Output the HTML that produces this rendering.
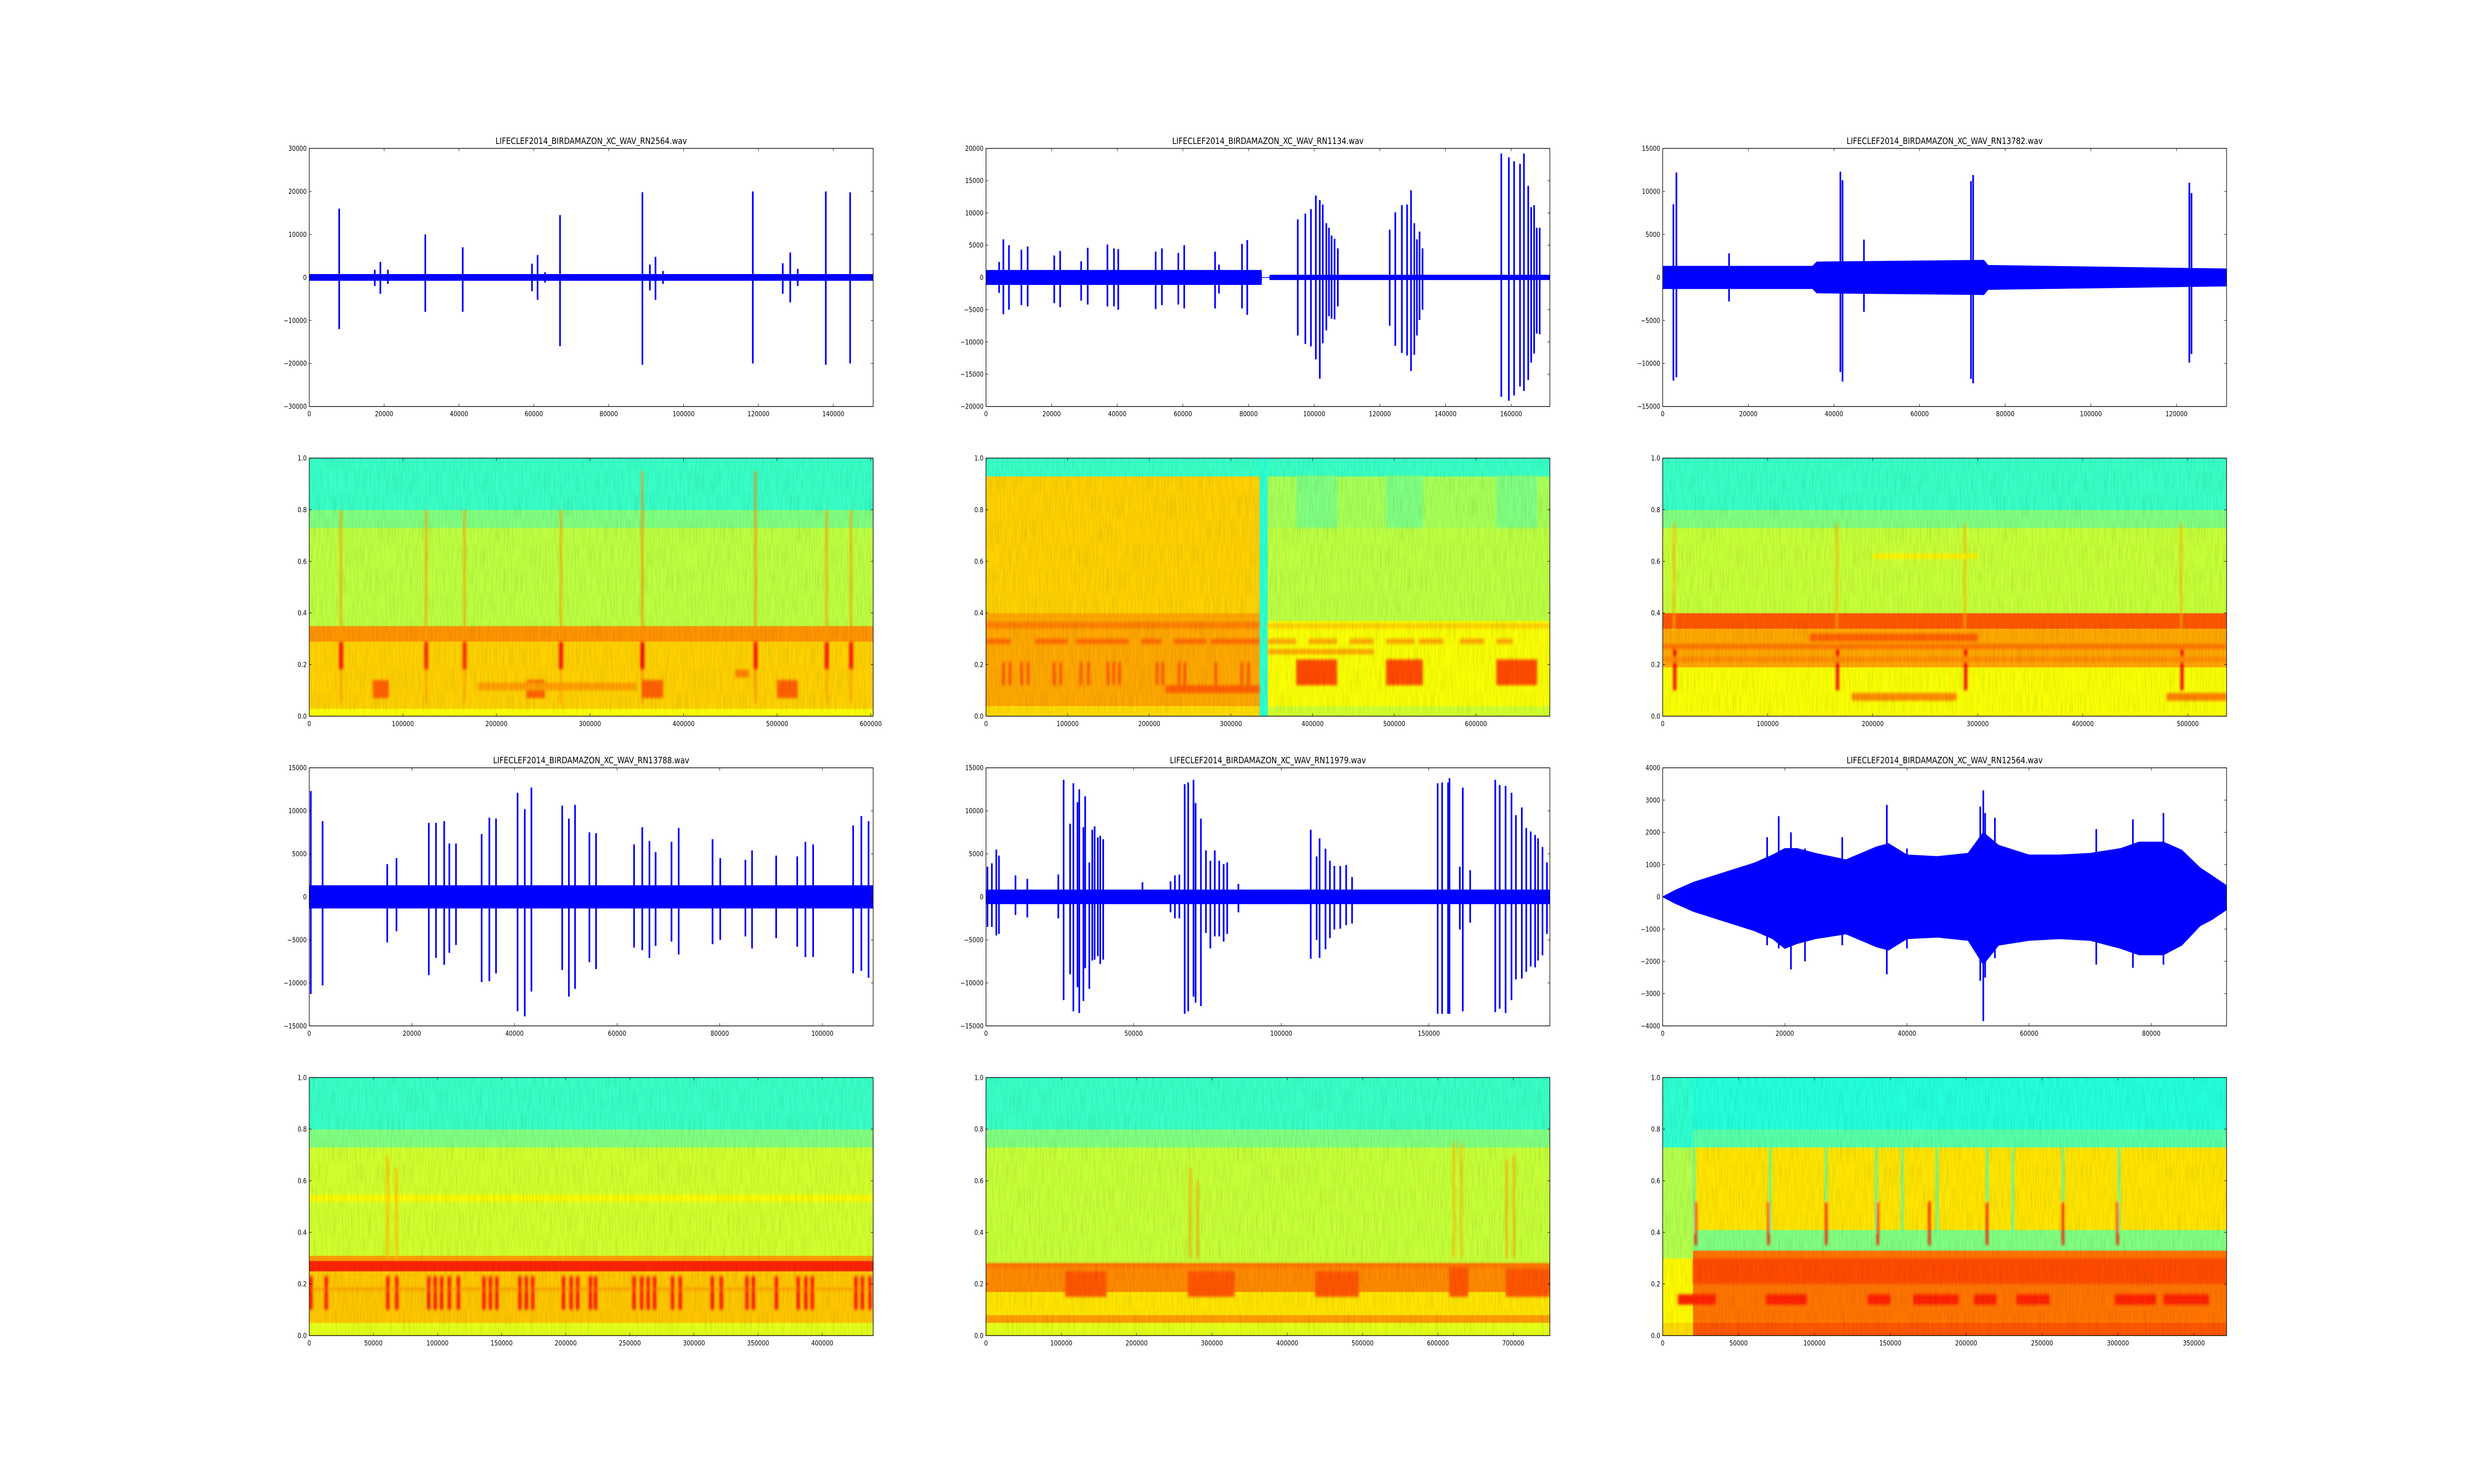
<!DOCTYPE html>
<html><head><meta charset="utf-8"><style>
html,body{margin:0;padding:0;background:#fff;overflow:hidden;width:100%;height:100%;}
svg{display:block;width:100vw;height:100vh;}
text{font-family:"DejaVu Sans","Liberation Sans",sans-serif;fill:#000;}
</style></head><body>
<svg id="fig" xmlns="http://www.w3.org/2000/svg" viewBox="0 0 6000 3000" preserveAspectRatio="none">
<defs>
<filter id="tex" x="0" y="0" width="1" height="1">
<feTurbulence type="fractalNoise" baseFrequency="0.35 0.02" numOctaves="2" seed="7"/>
<feColorMatrix type="matrix" values="0 0 0 0 0  0 0 0 0 0  0 0 0 0 0  1.4 0 0 0 -0.55"/>
</filter>
<filter id="soft" x="-0.5" y="-0.5" width="2" height="2"><feGaussianBlur stdDeviation="3"/></filter>
</defs>
<rect x="0" y="0" width="6000" height="3000" fill="#fff"/>
</svg>
<script>
// ---------- waveform data ----------
const waveA_title="LIFECLEF2014_BIRDAMAZON_XC_WAV_RN2564.wav";
const waveA_xTicks=[0,20000,40000,60000,80000,100000,120000,140000];
const waveA_yTicks=[-30000,-20000,-10000,0,10000,20000,30000];
const waveA_range=[0,150650,-30000,30000];
const waveA_baseT=[0,150650];
const waveA_baseHi=[700,700];
const waveA_baseLo=[-700,-700];
const waveA_evT=[8000,17500,19000,21000,31000,41000,59500,61000,63000,67000,89000,91000,92500,94500,118500,126500,128500,130500,138000,144500];
const waveA_evHi=[16000,1800,3600,1800,10000,7000,3200,5200,1200,14500,19800,3000,4800,1500,20000,3300,5800,2000,20000,19800];
const waveA_evLo=[-12000,-2000,-3800,-1500,-8000,-8000,-3200,-5200,-1200,-16000,-20300,-3000,-5200,-1500,-20000,-3800,-5800,-2000,-20300,-20000];

const waveB_title="LIFECLEF2014_BIRDAMAZON_XC_WAV_RN1134.wav";
const waveB_xTicks=[0,20000,40000,60000,80000,100000,120000,140000,160000];
const waveB_yTicks=[-20000,-15000,-10000,-5000,0,5000,10000,15000,20000];
const waveB_range=[0,171800,-20000,20000];
const waveB_baseT=[0,83900,84000,86400,86500,171800];
const waveB_baseHi=[1100,1100,0,0,350,350];
const waveB_baseLo=[-1100,-1100,0,0,-350,-350];
const waveB_evT=[4000,5300,7000,10800,12700,20800,22600,29000,31000,37000,39000,40300,51700,53600,58600,60400,69800,71000,78000,79600,95000,97300,99000,100500,101700,102600,103700,104500,105300,106200,107200,123000,124700,126700,128300,129500,130500,131300,132100,133000,157000,159300,160900,162700,163900,165200,166100,167000,167800,168700];
const waveB_evHi=[2400,5900,5000,4300,4800,3400,4100,2500,4600,5100,4500,4400,4000,4500,3800,5000,4000,2000,5200,5800,9000,9900,10600,12700,12000,11300,8400,7700,6500,6000,4500,7400,10100,11200,11300,13500,8400,5900,7100,4500,19200,18600,18000,17600,19200,14200,10900,11200,7700,7700];
const waveB_evLo=[-2400,-5700,-5000,-4300,-4500,-4000,-4600,-3600,-4200,-4500,-4500,-5000,-4900,-4300,-4200,-4800,-4800,-2500,-4800,-5800,-9000,-10300,-10700,-12700,-15700,-10200,-8200,-6000,-6400,-6500,-4500,-7500,-10600,-11700,-12100,-14500,-12000,-9000,-6600,-5000,-18500,-19100,-18300,-16900,-17600,-15900,-13200,-11800,-8700,-8800];

const waveC_title="LIFECLEF2014_BIRDAMAZON_XC_WAV_RN13782.wav";
const waveC_xTicks=[0,20000,40000,60000,80000,100000,120000];
const waveC_yTicks=[-15000,-10000,-5000,0,5000,10000,15000];
const waveC_range=[0,131700,-15000,15000];
const waveC_baseT=[0,35000,36000,75000,76000,131700];
const waveC_baseHi=[1300,1300,1800,2000,1400,1000];
const waveC_baseLo=[-1300,-1300,-1800,-2000,-1400,-1000];
const waveC_evT=[2500,3200,15500,41500,42000,47000,72000,72500,123000,123500];
const waveC_evHi=[8500,12200,2800,12300,11300,4400,11200,11900,11000,9800];
const waveC_evLo=[-12000,-11600,-2800,-11000,-12100,-4000,-11800,-12300,-9900,-8900];

const waveD_title="LIFECLEF2014_BIRDAMAZON_XC_WAV_RN13788.wav";
const waveD_xTicks=[0,20000,40000,60000,80000,100000];
const waveD_yTicks=[-15000,-10000,-5000,0,5000,10000,15000];
const waveD_range=[0,109900,-15000,15000];
const waveD_baseT=[0,109900];
const waveD_baseHi=[1300,1300];
const waveD_baseLo=[-1300,-1300];
const waveD_evT=[300,2600,15200,17000,23300,24700,26300,27300,28600,33600,35100,36400,40600,42000,43300,49300,50600,51800,54600,55900,63300,64900,66300,67500,70600,72000,78600,80100,85000,86300,91000,95100,96700,98200,106000,107600,109000];
const waveD_evHi=[12300,8800,3800,4500,8600,8600,8800,6200,6200,7300,9200,9100,12100,10200,12700,10600,9100,10700,7500,7400,6100,8100,6500,5200,6400,8000,6700,4500,4300,5400,4800,4700,6400,6100,8300,9400,8800];
const waveD_evLo=[-11300,-10300,-5300,-4000,-9100,-7100,-7900,-6500,-5600,-9900,-9800,-8900,-13300,-13900,-11000,-8500,-11600,-10700,-7600,-8400,-5900,-6200,-7100,-5700,-5200,-6700,-5500,-5000,-4600,-6000,-4800,-5800,-7000,-7000,-8900,-8600,-9400];

const waveE_title="LIFECLEF2014_BIRDAMAZON_XC_WAV_RN11979.wav";
const waveE_xTicks=[0,50000,100000,150000];
const waveE_yTicks=[-15000,-10000,-5000,0,5000,10000,15000];
const waveE_range=[0,191000,-15000,15000];
const waveE_baseT=[0,191000];
const waveE_baseHi=[800,800];
const waveE_baseLo=[-800,-800];
const waveE_evT=[500,2000,3500,4400,10000,14000,24500,26300,28500,29600,31000,31600,33000,33600,35000,36000,36800,37900,38700,39700,53000,62500,64000,65500,67300,68500,70300,71000,72800,74500,76000,77500,79000,80500,81700,85500,110000,112000,113000,115000,116500,118000,120000,122000,124000,153000,154500,156500,157000,160500,161500,164000,172500,174000,176000,178000,179500,181500,183000,184500,186000,187000,188500,190000];
const waveE_evHi=[3500,3900,5500,4800,2500,2100,2600,13600,8500,13200,11000,12500,8100,11700,4000,7800,8200,6900,7100,6700,1700,1800,2500,2600,13100,13300,13600,10900,9100,5400,4200,5400,4200,3800,4000,1500,7800,4700,6800,5600,4200,3600,3600,3700,2300,13200,13300,13300,13800,3500,12700,3100,13600,13000,12900,12100,9500,10400,8000,7600,7200,6800,5800,4000];
const waveE_evLo=[-3500,-3500,-4500,-4300,-2100,-2400,-2500,-12000,-9000,-13300,-10500,-13500,-12100,-8300,-10700,-7400,-7300,-6900,-7800,-7300,-800,-1800,-2500,-2500,-13600,-13300,-11600,-12300,-12700,-4200,-6000,-4600,-4600,-5200,-4300,-1800,-7200,-5000,-7100,-6100,-4800,-3800,-3700,-3300,-3100,-13600,-13600,-13600,-13600,-3800,-13300,-3000,-13400,-13000,-13500,-12000,-9600,-9500,-8700,-8100,-8200,-7400,-6800,-4300];

const waveF_title="LIFECLEF2014_BIRDAMAZON_XC_WAV_RN12564.wav";
const waveF_xTicks=[0,20000,40000,60000,80000];
const waveF_yTicks=[-4000,-3000,-2000,-1000,0,1000,2000,3000,4000];
const waveF_range=[0,92340,-4000,4000];
const waveF_baseT=[0,2000,5000,10000,15000,18000,20000,22000,25000,30000,35000,37000,40000,45000,50000,52500,55000,60000,65000,70000,75000,78000,82000,85000,88000,90000,92340];
const waveF_baseHi=[0,200,450,750,1050,1300,1500,1500,1350,1150,1550,1650,1300,1250,1350,2000,1600,1300,1300,1350,1500,1700,1700,1450,900,650,350];
const waveF_baseLo=[0,-200,-450,-750,-1050,-1300,-1600,-1450,-1300,-1150,-1550,-1650,-1300,-1250,-1350,-2100,-1500,-1350,-1300,-1350,-1600,-1800,-1800,-1500,-900,-700,-400];
const waveF_evT=[17100,19000,21000,23300,29400,36700,40000,52000,52500,52800,54400,71000,77000,82000];
const waveF_evHi=[1850,2500,2000,1500,1850,2850,1500,2800,3300,2600,2450,2100,2400,2600];
const waveF_evLo=[-1500,-1600,-2250,-2000,-1500,-2400,-1600,-2600,-3850,-2500,-1900,-2100,-2200,-2100];

// ---------- spectrogram data ----------
const specA_xTicks=[0,100000,200000,300000,400000,500000,600000];
const specA_xMax=602600;
const specA_regT0=[0];
const specA_regT1=[602600];
const specA_bandTop=[[0.03,0.29,0.35,0.73,0.80,1.0]];
const specA_bandLv=[[0.62,0.67,0.73,0.56,0.5,0.43]];
const specA_blobT0=[33000,124000,165000,268000,355000,476000,552000,578000,32000,123000,164000,267000,354000,475000,551000,577000,68000,232000,355000,500000,180000,320000,455000];
const specA_blobT1=[34500,125500,166500,269500,356500,477500,553500,579500,36000,127000,168000,271000,358000,479000,555000,581000,85000,252000,378000,522000,330000,350000,470000];
const specA_blobF0=[0.05,0.05,0.05,0.05,0.05,0.05,0.05,0.05,0.18,0.18,0.18,0.18,0.18,0.18,0.18,0.18,0.07,0.07,0.07,0.07,0.10,0.10,0.15];
const specA_blobF1=[0.8,0.8,0.8,0.8,0.95,0.95,0.8,0.8,0.29,0.29,0.29,0.29,0.29,0.29,0.29,0.29,0.14,0.14,0.14,0.14,0.13,0.13,0.18];
const specA_blobLv=[0.72,0.72,0.72,0.72,0.74,0.74,0.72,0.72,0.86,0.84,0.84,0.86,0.88,0.86,0.86,0.86,0.78,0.78,0.78,0.78,0.72,0.72,0.75];

const specB_xTicks=[0,100000,200000,300000,400000,500000,600000];
const specB_xMax=690600;
const specB_regT0=[0,335000,345000];
const specB_regT1=[335000,345000,690600];
const specB_bandTop=[[0.04,0.4,0.93,1.0],[1.0],[0.04,0.37,0.73,0.93,1.0]];
const specB_bandLv=[[0.66,0.71,0.67,0.43],[0.42],[0.58,0.62,0.56,0.54,0.43]];
const specB_blobT0=[0,0,60000,110000,190000,230000,275000,20000,28000,42000,50000,82000,90000,115000,124000,148000,155000,162000,208000,215000,235000,242000,280000,312000,320000,220000,380000,490000,625000,380000,490000,625000,345000,395000,445000,490000,530000,580000,625000,345000,345000];
const specB_blobT1=[335000,30000,100000,175000,215000,270000,335000,23000,31000,45000,53000,85000,93000,118000,127000,151000,158000,165000,211000,218000,238000,245000,283000,315000,323000,335000,430000,535000,675000,430000,535000,675000,380000,430000,475000,525000,560000,610000,645000,475000,690600];
const specB_blobF0=[0.34,0.28,0.28,0.28,0.28,0.28,0.28,0.12,0.12,0.12,0.12,0.12,0.12,0.12,0.12,0.12,0.12,0.12,0.12,0.12,0.12,0.12,0.12,0.12,0.12,0.09,0.73,0.73,0.73,0.12,0.12,0.12,0.28,0.28,0.28,0.28,0.28,0.28,0.28,0.24,0.34];
const specB_blobF1=[0.365,0.30,0.30,0.30,0.30,0.30,0.30,0.21,0.21,0.21,0.21,0.21,0.21,0.21,0.21,0.21,0.21,0.21,0.21,0.21,0.21,0.21,0.21,0.21,0.21,0.12,0.93,0.93,0.93,0.22,0.22,0.22,0.30,0.30,0.30,0.30,0.30,0.30,0.30,0.26,0.36];
const specB_blobLv=[0.75,0.77,0.77,0.77,0.77,0.77,0.77,0.8,0.8,0.8,0.8,0.8,0.8,0.8,0.8,0.8,0.8,0.8,0.8,0.8,0.8,0.8,0.8,0.8,0.8,0.78,0.5,0.5,0.5,0.8,0.8,0.8,0.71,0.71,0.71,0.71,0.71,0.71,0.71,0.71,0.67];

const specC_xTicks=[0,100000,200000,300000,400000,500000];
const specC_xMax=537000;
const specC_regT0=[0];
const specC_regT1=[537000];
const specC_bandTop=[[0.19,0.34,0.40,0.73,0.80,1.0]];
const specC_bandLv=[[0.62,0.71,0.79,0.57,0.5,0.43]];
const specC_blobT0=[10000,165000,287000,493000,10000,165000,287000,493000,140000,180000,480000,200000,0,0];
const specC_blobT1=[13000,168000,290000,496000,11500,166500,288500,494500,300000,280000,537000,300000,537000,537000];
const specC_blobF0=[0.1,0.1,0.1,0.1,0.27,0.27,0.27,0.27,0.29,0.06,0.06,0.61,0.26,0.21];
const specC_blobF1=[0.27,0.27,0.27,0.27,0.75,0.75,0.75,0.75,0.32,0.09,0.09,0.63,0.28,0.23];
const specC_blobLv=[0.88,0.88,0.88,0.88,0.7,0.7,0.7,0.7,0.78,0.74,0.75,0.64,0.76,0.74];

const specD_xTicks=[0,50000,100000,150000,200000,250000,300000,350000,400000];
const specD_xMax=439700;
const specD_regT0=[0];
const specD_regT1=[439700];
const specD_bandTop=[[0.05,0.25,0.29,0.31,0.73,0.80,1.0]];
const specD_bandLv=[[0.6,0.68,0.84,0.72,0.58,0.5,0.43]];
const specD_streakT=[0,12000,60000,67000,92000,97000,102000,108000,115000,135000,140000,145000,163000,168000,173000,197000,203000,208000,218000,222000,252000,258000,263000,268000,282000,288000,313000,320000,340000,345000,363000,380000,386000,391000,425000,430000,436000];
const specD_blobT0=[0,0,60000,67000];
const specD_blobT1=[439700,439700,62000,69000];
const specD_blobF0=[0.52,0.175,0.3,0.3];
const specD_blobF1=[0.545,0.185,0.7,0.65];
const specD_blobLv=[0.63,0.72,0.68,0.68];

const specE_xTicks=[0,100000,200000,300000,400000,500000,600000,700000];
const specE_xMax=748600;
const specE_regT0=[0];
const specE_regT1=[748600];
const specE_bandTop=[[0.05,0.08,0.17,0.28,0.73,0.80,1.0]];
const specE_bandLv=[[0.6,0.72,0.65,0.74,0.57,0.5,0.43]];
const specE_blobT0=[105000,268000,437000,615000,690000,270000,280000,620000,630000,690000,700000,0];
const specE_blobT1=[160000,330000,495000,640000,748600,272000,282000,622000,632000,692000,702000,748600];
const specE_blobF0=[0.15,0.15,0.15,0.15,0.15,0.3,0.3,0.3,0.3,0.3,0.3,0.265];
const specE_blobF1=[0.25,0.25,0.25,0.28,0.26,0.65,0.6,0.75,0.75,0.68,0.7,0.28];
const specE_blobLv=[0.79,0.79,0.79,0.79,0.79,0.72,0.72,0.7,0.7,0.72,0.72,0.76];

const specF_xTicks=[0,50000,100000,150000,200000,250000,300000,350000];
const specF_xMax=371600;
const specF_regT0=[0,20000];
const specF_regT1=[20000,371600];
const specF_bandTop=[[0.05,0.30,0.73,1.0],[0.05,0.33,0.41,0.73,0.80,1.0]];
const specF_bandLv=[[0.66,0.63,0.55,0.42],[0.79,0.76,0.5,0.65,0.46,0.41]];
const specF_blobT0=[20000,70000,107000,140000,157000,180000,213000,230000,263000,300000,21000,69000,107000,141000,175000,213000,263000,299000,10000,68000,135000,165000,205000,233000,298000,330000,20000];
const specF_blobT1=[21500,71500,108500,141500,158500,181500,214500,231500,264500,301500,22500,70500,108500,142500,176500,214500,264500,300500,35000,95000,150000,195000,220000,255000,325000,360000,371600];
const specF_blobF0=[0.4,0.4,0.4,0.4,0.4,0.4,0.4,0.4,0.4,0.4,0.35,0.35,0.35,0.35,0.35,0.35,0.35,0.35,0.12,0.12,0.12,0.12,0.12,0.12,0.12,0.12,0.2];
const specF_blobF1=[0.73,0.73,0.73,0.73,0.73,0.73,0.73,0.73,0.73,0.73,0.52,0.52,0.52,0.52,0.52,0.52,0.52,0.52,0.16,0.16,0.16,0.16,0.16,0.16,0.16,0.16,0.3];
const specF_blobLv=[0.45,0.45,0.45,0.45,0.45,0.45,0.45,0.45,0.45,0.45,0.86,0.86,0.86,0.86,0.86,0.86,0.86,0.86,0.84,0.84,0.84,0.84,0.84,0.84,0.84,0.84,0.8];

const specY_ticks=[0.0,0.2,0.4,0.6,0.8,1.0];
const specY_labels=["0.0","0.2","0.4","0.6","0.8","1.0"];

// ---------- layout (matplotlib default subplot params) ----------
const COL_X=[750,2391.2,4032.4], AW=1367.6, AH=521.7, ROW_Y=[300,926.1,1552.2,2178.3];
const NS="http://www.w3.org/2000/svg";
const svg=document.getElementById('fig');
function mk(tag,attrs,parent){const e=document.createElementNS(NS,tag);for(const k in attrs)e.setAttribute(k,attrs[k]);(parent||svg).appendChild(e);return e;}
function fmt(v){return v<0?'\u2212'+Math.abs(v):String(v);}
function jet(v){const c=x=>Math.max(0,Math.min(1,x));const r=c(1.5-Math.abs(4*v-3)),g=c(1.5-Math.abs(4*v-2)),b=c(1.5-Math.abs(4*v-1));return 'rgb('+Math.round(r*255)+','+Math.round(g*255)+','+Math.round(b*255)+')';}

function axesFrame(g,ax0,ay0,sx,sy,xTicks,xLabels,yTicks,yLabels){
  const TL=5.6;
  xTicks.forEach((t,i)=>{
    const x=sx(t);
    const tb=mk('line',{x1:x,y1:ay0+AH,x2:x,y2:ay0+AH-TL,stroke:'#000','stroke-width':1},g);
    
    const tt=mk('line',{x1:x,y1:ay0,x2:x,y2:ay0+TL,stroke:'#000','stroke-width':1},g);
    
    const lb=mk('text',{x:x,y:ay0+AH+20,'font-size':14,'text-anchor':'middle'},g);
    lb.textContent=xLabels[i];
    
  });
  yTicks.forEach((t,i)=>{
    const y=sy(t);
    const tl=mk('line',{x1:ax0,y1:y,x2:ax0+TL,y2:y,stroke:'#000','stroke-width':1},g);
    
    const tr=mk('line',{x1:ax0+AW,y1:y,x2:ax0+AW-TL,y2:y,stroke:'#000','stroke-width':1},g);
    
    const lb=mk('text',{x:ax0-6,y:y+5,'font-size':14,'text-anchor':'end'},g);
    lb.textContent=yLabels[i];
    
  });
  const sp=mk('rect',{x:ax0,y:ay0,width:AW,height:AH,fill:'none',stroke:'#000','stroke-width':1.4},g);
  
}

function drawWave(col,row,title,range,xTicks,yTicks,baseT,baseHi,baseLo,evT,evHi,evLo,name){
  const ax0=COL_X[col],ay0=ROW_Y[row];
  const sx=v=>ax0+(v-range[0])/(range[1]-range[0])*AW;
  const sy=v=>ay0+AH-(v-range[2])/(range[3]-range[2])*AH;
  const g=mk('g',{});
  
  const cid='clip-'+name;
  const cp=mk('clipPath',{id:cid},g);mk('rect',{x:ax0,y:ay0,width:AW,height:AH},cp);
  const plot=mk('g',{'clip-path':'url(#'+cid+')'},g);
  let pts=[];
  for(let i=0;i<baseT.length;i++)pts.push(sx(baseT[i]).toFixed(1)+','+sy(baseHi[i]).toFixed(1));
  for(let i=baseT.length-1;i>=0;i--)pts.push(sx(baseT[i]).toFixed(1)+','+sy(baseLo[i]).toFixed(1));
  const base=mk('polygon',{points:pts.join(' '),fill:'#0000ff',stroke:'#0000ff','stroke-width':1.5},plot);
  
  for(let i=0;i<evT.length;i++){
    const ln=mk('line',{x1:sx(evT[i]),y1:sy(evHi[i]),x2:sx(evT[i]),y2:sy(evLo[i]),stroke:'#0000ff','stroke-width':4},plot);
    
  }
  axesFrame(g,ax0,ay0,sx,sy,xTicks,xTicks.map(fmt),yTicks,yTicks.map(fmt));
  const tt=mk('text',{x:ax0+AW/2,y:ay0-9,'font-size':18,'text-anchor':'middle'},g);
  tt.textContent=title;
  
}

function drawSpec(col,row,xMax,xTicks,regT0,regT1,bandTop,bandLv,bT0,bT1,bF0,bF1,bLv,name){
  const ax0=COL_X[col],ay0=ROW_Y[row];
  const sx=v=>ax0+v/xMax*AW;
  const sy=v=>ay0+AH-v*AH;
  const g=mk('g',{});
  
  const cid='clip-'+name;
  const cp=mk('clipPath',{id:cid},g);mk('rect',{x:ax0,y:ay0,width:AW,height:AH},cp);
  const plot=mk('g',{'clip-path':'url(#'+cid+')'},g);
  for(let r=0;r<regT0.length;r++){
    let lo=0;
    for(let b=0;b<bandTop[r].length;b++){
      const hi=bandTop[r][b];
      const rc=mk('rect',{x:sx(regT0[r]),y:sy(hi),width:sx(regT1[r])-sx(regT0[r])+0.5,height:sy(lo)-sy(hi)+0.5,fill:jet(bandLv[r][b])},plot);
      
      lo=hi;
    }
  }
  const bl=mk('g',{filter:'url(#soft)'},plot);
  for(let i=0;i<bT0.length;i++){
    const x0=sx(bT0[i]),x1=Math.max(sx(bT1[i]),x0+4);
    const rc=mk('rect',{x:x0,y:sy(bF1[i]),width:x1-x0,height:sy(bF0[i])-sy(bF1[i]),rx:2,fill:jet(bLv[i])},bl);
    
  }
  const tx=mk('rect',{x:ax0,y:ay0,width:AW,height:AH,filter:'url(#tex)',opacity:0.14},plot);
  
  axesFrame(g,ax0,ay0,sx,sy,xTicks,xTicks.map(String),specY_ticks,specY_labels);
}

drawWave(0,0,waveA_title,waveA_range,waveA_xTicks,waveA_yTicks,waveA_baseT,waveA_baseHi,waveA_baseLo,waveA_evT,waveA_evHi,waveA_evLo,'waveform-rn2564');
drawWave(1,0,waveB_title,waveB_range,waveB_xTicks,waveB_yTicks,waveB_baseT,waveB_baseHi,waveB_baseLo,waveB_evT,waveB_evHi,waveB_evLo,'waveform-rn1134');
drawWave(2,0,waveC_title,waveC_range,waveC_xTicks,waveC_yTicks,waveC_baseT,waveC_baseHi,waveC_baseLo,waveC_evT,waveC_evHi,waveC_evLo,'waveform-rn13782');
drawWave(0,2,waveD_title,waveD_range,waveD_xTicks,waveD_yTicks,waveD_baseT,waveD_baseHi,waveD_baseLo,waveD_evT,waveD_evHi,waveD_evLo,'waveform-rn13788');
drawWave(1,2,waveE_title,waveE_range,waveE_xTicks,waveE_yTicks,waveE_baseT,waveE_baseHi,waveE_baseLo,waveE_evT,waveE_evHi,waveE_evLo,'waveform-rn11979');
drawWave(2,2,waveF_title,waveF_range,waveF_xTicks,waveF_yTicks,waveF_baseT,waveF_baseHi,waveF_baseLo,waveF_evT,waveF_evHi,waveF_evLo,'waveform-rn12564');

const dT0=specD_blobT0.slice(),dT1=specD_blobT1.slice(),dF0=specD_blobF0.slice(),dF1=specD_blobF1.slice(),dLv=specD_blobLv.slice();
specD_streakT.forEach(t=>{dT0.push(t);dT1.push(t+2500);dF0.push(0.1);dF1.push(0.23);dLv.push(0.86);});

drawSpec(0,1,specA_xMax,specA_xTicks,specA_regT0,specA_regT1,specA_bandTop,specA_bandLv,specA_blobT0,specA_blobT1,specA_blobF0,specA_blobF1,specA_blobLv,'spectrogram-rn2564');
drawSpec(1,1,specB_xMax,specB_xTicks,specB_regT0,specB_regT1,specB_bandTop,specB_bandLv,specB_blobT0,specB_blobT1,specB_blobF0,specB_blobF1,specB_blobLv,'spectrogram-rn1134');
drawSpec(2,1,specC_xMax,specC_xTicks,specC_regT0,specC_regT1,specC_bandTop,specC_bandLv,specC_blobT0,specC_blobT1,specC_blobF0,specC_blobF1,specC_blobLv,'spectrogram-rn13782');
drawSpec(0,3,specD_xMax,specD_xTicks,specD_regT0,specD_regT1,specD_bandTop,specD_bandLv,dT0,dT1,dF0,dF1,dLv,'spectrogram-rn13788');
drawSpec(1,3,specE_xMax,specE_xTicks,specE_regT0,specE_regT1,specE_bandTop,specE_bandLv,specE_blobT0,specE_blobT1,specE_blobF0,specE_blobF1,specE_blobLv,'spectrogram-rn11979');
drawSpec(2,3,specF_xMax,specF_xTicks,specF_regT0,specF_regT1,specF_bandTop,specF_bandLv,specF_blobT0,specF_blobT1,specF_blobF0,specF_blobF1,specF_blobLv,'spectrogram-rn12564');
</script>
</body></html>
